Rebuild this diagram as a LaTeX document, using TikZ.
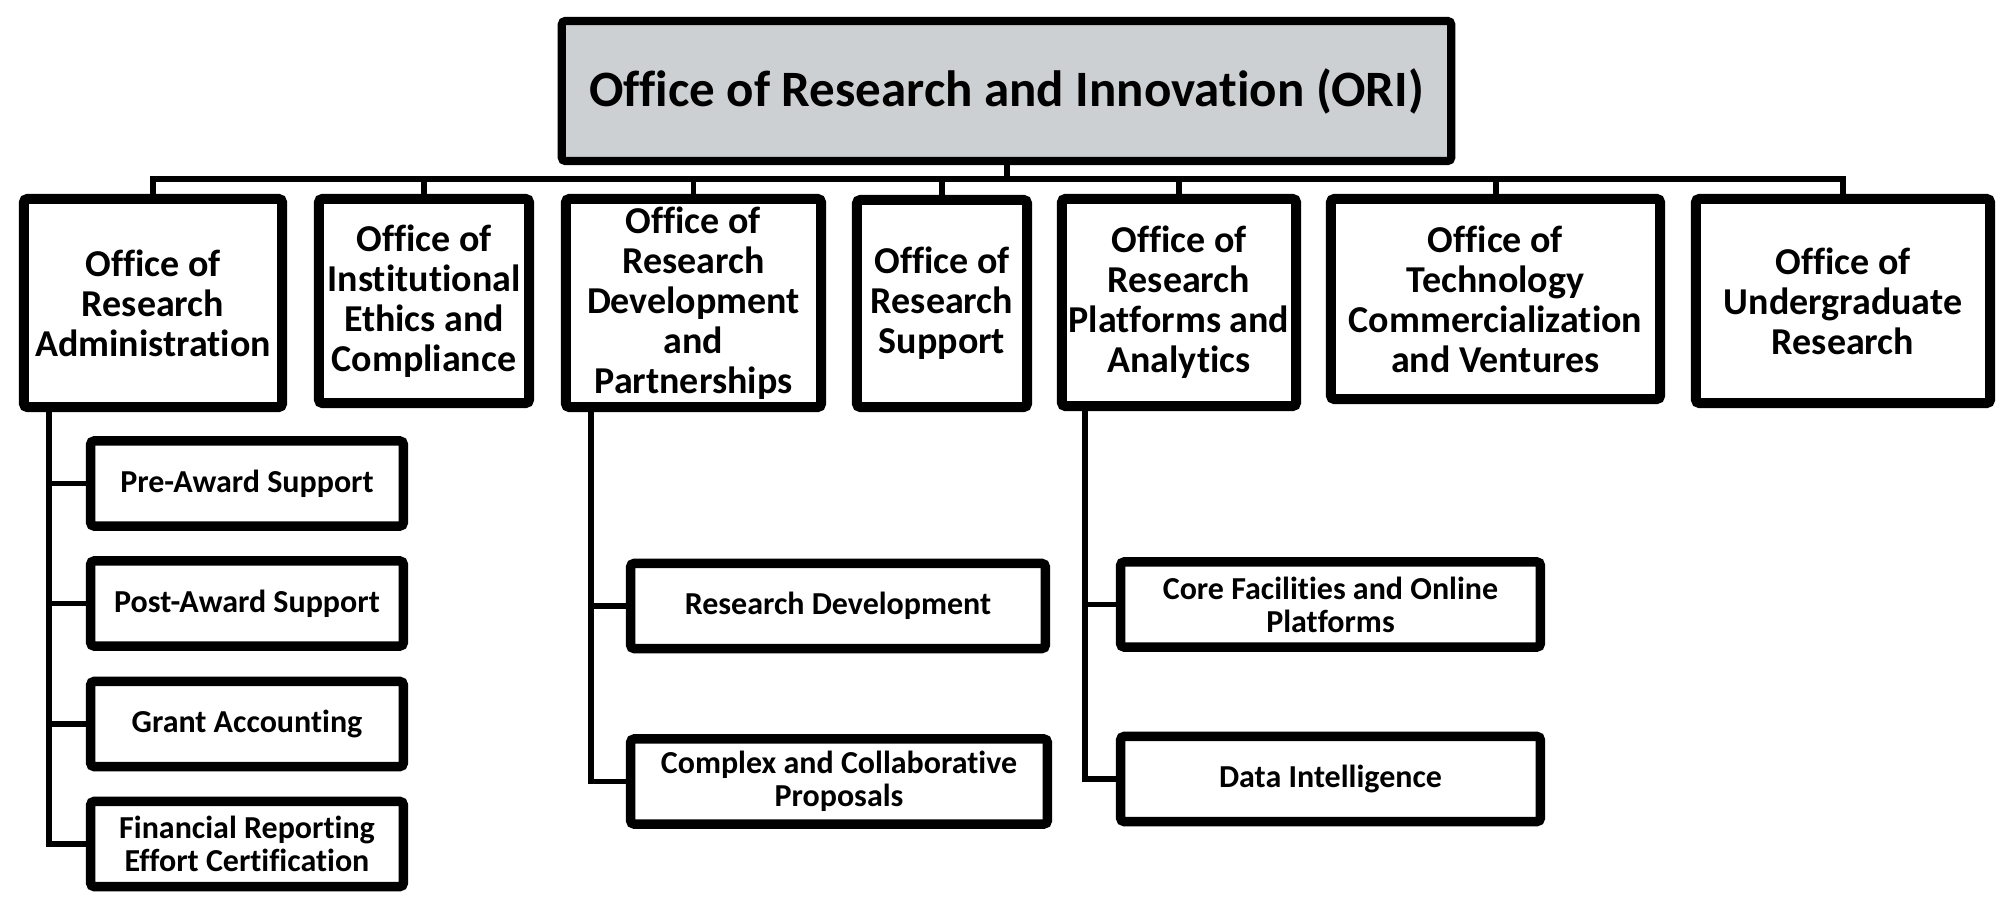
\documentclass[tikz,border=0pt]{standalone}
\usepackage{fontspec}
\setmainfont{Carlito}[Ligatures=NoCommon]
\usetikzlibrary{positioning}

\definecolor{headgray}{RGB}{205,208,210}

\begin{document}
\begin{tikzpicture}[x=0.01cm,y=-0.01cm,
   head/.style={draw, fill=headgray, line width=2.3pt, rounded corners=1pt,
      inner sep=0pt, minimum width=8.89cm, minimum height=1.40cm,
      font=\fontsize{14.5}{16}\selectfont\bfseries},
   dept/.style={draw, fill=white, line width=2.85pt, rounded corners=1pt,
      inner sep=0pt, align=center, font=\fontsize{10.8}{11.4}\selectfont\bfseries},
   unit/.style={draw, fill=white, line width=2.7pt, rounded corners=1pt,
      inner sep=0pt, align=center, minimum height=0.85cm,
      font=\fontsize{9.1}{9.4}\selectfont\bfseries},
   link/.style={line width=1.7pt}]
   \useasboundingbox (0,0) rectangle (2012,909);
   % top office
   \node[head] (ori) at (1006.5,91) {Office of Research and Innovation (ORI)};
   % offices
   \node[dept, minimum width=2.58cm, minimum height=2.08cm] (admin) at (153,303)
      {Office of\\Research\\Administration};
   \node[dept, minimum width=2.10cm, minimum height=2.04cm] (ethics) at (424,301)
      {Office of\\Institutional\\Ethics and\\Compliance};
   \node[dept, minimum width=2.55cm, minimum height=2.08cm] (devel) at (693.5,303)
      {Office of\\Research\\Development\\and\\Partnerships};
   \node[dept, minimum width=1.70cm, minimum height=2.07cm] (support) at (942,303.5)
      {Office of\\Research\\Support};
   \node[dept, minimum width=2.34cm, minimum height=2.07cm] (platf) at (1179,302.5)
      {Office of\\Research\\Platforms and\\Analytics};
   \node[dept, minimum width=3.29cm, minimum height=2.00cm] (tech) at (1495.5,299)
      {Office of\\Technology\\Commercialization\\and Ventures};
   \node[dept, minimum width=2.94cm, minimum height=2.04cm] (ugrad) at (1843,301)
      {Office of\\Undergraduate\\Research};
   % units
   \node[unit, minimum width=3.125cm] (preaward) at (247,483.5) {Pre-Award Support};
   \node[unit, minimum width=3.125cm] (postaward) at (247,603.5) {Post-Award Support};
   \node[unit, minimum width=3.125cm] (grant) at (247,724) {Grant Accounting};
   \node[unit, minimum width=3.125cm] (finrep) at (247,844)
      {Financial Reporting\\Effort Certification};
   \node[unit, minimum width=4.145cm] (resdev) at (838,606) {Research Development};
   \node[unit, minimum width=4.165cm] (complex) at (839,781.5)
      {Complex and Collaborative\\Proposals};
   \node[unit, minimum width=4.195cm] (core) at (1330.5,604.5)
      {Core Facilities and Online\\Platforms};
   \node[unit, minimum width=4.195cm] (dataint) at (1330.5,779) {Data Intelligence};
   % bus below the top office
   \foreach \o in {admin,ethics,devel,support,platf,tech,ugrad}
      \draw[link] (ori.south) -- ++(0,14) -| (\o.north);
   % unit lines
   \coordinate (adminfoot) at ([xshift=0.3cm]admin.south west);
   \coordinate (develfoot) at ([xshift=0.3cm]devel.south west);
   \coordinate (platffoot) at ([xshift=0.28cm]platf.south west);
   \foreach \u in {preaward,postaward,grant,finrep}
      \draw[link] (adminfoot) |- (\u.west);
   \foreach \u in {resdev,complex}
      \draw[link] (develfoot) |- (\u.west);
   \foreach \u in {core,dataint}
      \draw[link] (platffoot) |- (\u.west);
\end{tikzpicture}
\end{document}
